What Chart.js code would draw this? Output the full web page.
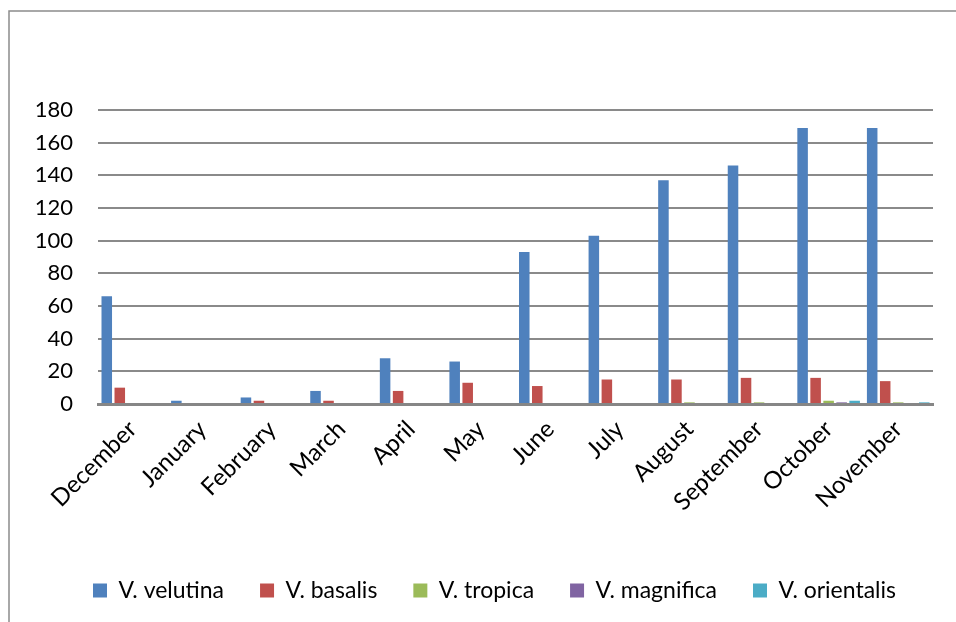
<!DOCTYPE html>
<html>
<head>
<meta charset="utf-8">
<script src="https://cdn.jsdelivr.net/npm/chart.js@4/dist/chart.umd.min.js"></script>
<style>
html,body{margin:0;padding:0;background:#fff;}
#wrap{position:relative;width:956px;height:622px;}
</style>
</head>
<body>
<div id="wrap"><canvas id="c" width="956" height="622"></canvas></div>
<script>
const months = ["December","January","February","March","April","May","June","July","August","September","October","November"];
const velutina   = [66, 2, 4, 8, 28, 26, 93, 103, 137, 146, 169, 169];
const basalis    = [10, 0, 2, 2, 8, 13, 11, 15, 15, 16, 16, 14];
const tropica    = [0, 0, 0, 0, 0, 0, 0, 0, 1, 1, 2, 1];
const magnifica  = [0, 0, 0, 0, 0, 0, 0, 0, 0, 0, 1, 0];
const orientalis = [0, 0, 0, 0, 0, 0, 0, 0, 0, 0, 2, 1];
const seriesNames = ["V. velutina","V. basalis","V. tropica","V. magnifica","V. orientalis"];
const seriesColors = ["#4F81BD","#C0504D","#9BBB59","#8064A2","#4BACC6"];
const yTicks = [0,20,40,60,80,100,120,140,160,180];

const frame = {
  id:'frame',
  beforeDraw(chart){
    const ctx = chart.ctx;
    ctx.save();
    ctx.strokeStyle = '#8c8c8c';
    ctx.lineWidth = 1.5;
    ctx.beginPath();
    ctx.moveTo(9, 622);
    ctx.lineTo(9, 11);
    ctx.lineTo(956, 11);
    ctx.stroke();
    ctx.restore();
  }
};

const shiftLegend = {
  id:'shiftLegend',
  afterLayout(chart){
    const lg = chart.legend;
    if (lg) { lg.left += 23; lg.right += 23; }
  }
};

const allData = [velutina, basalis, tropica, magnifica, orientalis];
new Chart(document.getElementById('c'), {
  type: 'bar',
  data: {
    labels: months,
    datasets: allData.map((d,i)=>({
      label: seriesNames[i],
      data: d,
      backgroundColor: seriesColors[i],
      borderWidth: 0,
      categoryPercentage: 0.935,
      barPercentage: 0.81
    }))
  },
  options: {
    responsive: false,
    animation: false,
    devicePixelRatio: 1,
    layout: { padding: { left: 10, right: 23, top: 110, bottom: 10 } },
    plugins: {
      tooltip: { enabled: false },
      legend: {
        position: 'bottom',
        labels: {
          boxWidth: 14, boxHeight: 14, padding: 36,
          color: '#000',
          font: { family: 'Lato', size: 23 }
        }
      }
    },
    scales: {
      x: {
        grid: { display: false, drawTicks: false },
        border: { display: true, color: '#868686', width: 3 },
        ticks: {
          color: '#000', font: { family: 'Lato', size: 24 },
          maxRotation: 45, minRotation: 45, padding: 11, autoSkip: false
        },
        afterFit(s){ s.height = 139; }
      },
      y: {
        min: 0, max: 180,
        afterBuildTicks(s){ s.ticks = yTicks.map(v=>({value:v})); },
        grid: { color: '#8a8a8a', lineWidth: 2, drawTicks: false },
        border: { display: false },
        ticks: { color: '#000', font: { family: 'Lato', size: 22 }, padding: 25, autoSkip: false },
        afterFit(s){ s.width = 88; }
      }
    }
  },
  plugins: [frame, shiftLegend]
});
</script>
</body>
</html>
